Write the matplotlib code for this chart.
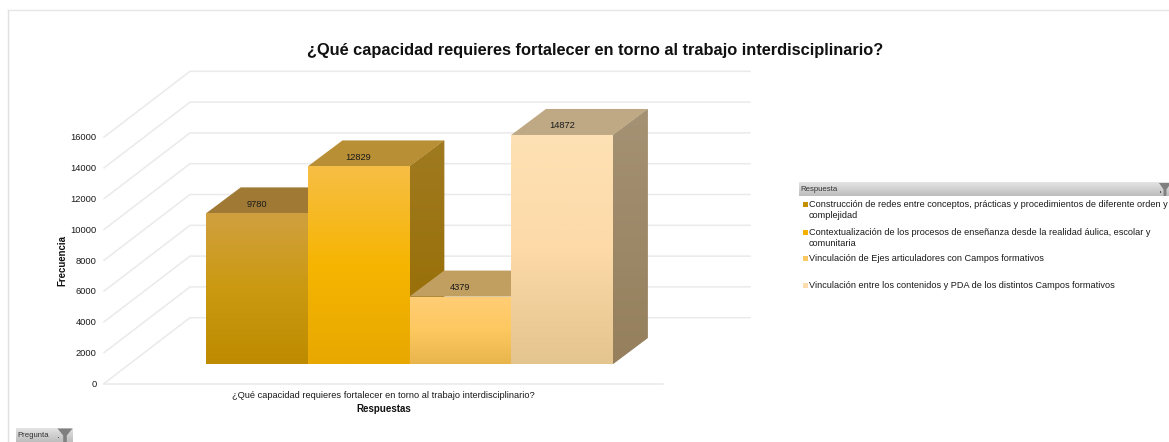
import numpy as np
import matplotlib
matplotlib.use("Agg")
import matplotlib.pyplot as plt
from matplotlib.patches import Polygon, Rectangle
from matplotlib.colors import LinearSegmentedColormap

plt.rcParams['font.family'] = ['Liberation Sans', 'DejaVu Sans']

# ---- data ----
title = "¿Qué capacidad requieres fortalecer en torno al trabajo interdisciplinario?"
category = "¿Qué capacidad requieres fortalecer en torno al trabajo interdisciplinario?"
responses = [
    "Construcción de redes entre conceptos, prácticas y procedimientos de diferente orden y\ncomplejidad",
    "Contextualización de los procesos de enseñanza desde la realidad áulica, escolar y\ncomunitaria",
    "Vinculación de Ejes articuladores con Campos formativos",
    "Vinculación entre los contenidos y PDA de los distintos Campos formativos",
]
values = [9780, 12829, 4379, 14872]
y_ticks = [0, 2000, 4000, 6000, 8000, 10000, 12000, 14000, 16000]
y_label = "Frecuencia"
x_label = "Respuestas"
legend_title = "Respuesta"
page_filter = "Pregunta"

# ---- styles ----
front_stops = [
    ["#D0A040", "#CB9A10", "#BE8B00"],
    ["#F7BE45", "#F6B500", "#E8A800"],
    ["#FFCD75", "#FEC860", "#E8B54C"],
    ["#FDE1B4", "#FDDAA8", "#E4C48F"],
]
top_cols = ["#A07A35", "#B98F35", "#C19F60", "#BFA985"]
side_stops = [
    ["#A07C28", "#946C00"],
    ["#A07A20", "#966C00"],
    ["#A88A50", "#9A7C40"],
    ["#A59274", "#957F5C"],
]
legend_cols = ["#C49000", "#F5B000", "#FCC860", "#FBDDB0"]
GRID = "#EAEAEA"

W, H = 1169, 442
fig = plt.figure(figsize=(W / 100, H / 100), dpi=100, facecolor="white")
ax = fig.add_axes([0, 0, 1, 1])

# Scale: 1 category = 101.75 px, 1 unit = 0.0154 px; origin at bar base
SX, SY, X0, Y0 = 101.75, 0.0154, 206.0, 364.0
X = lambda px: (px - X0) / SX
Y = lambda py: (Y0 - py) / SY
ax.set_xlim(X(0), X(W))
ax.set_ylim(Y(H), Y(0))
ax.axis("off")

def grad(x0, x1, y0, y1, stops, clip=None, z=3):
    cm = LinearSegmentedColormap.from_list("g", stops)
    im = ax.imshow(np.linspace(0, 1, 128)[:, None], cmap=cm, extent=[x0, x1, y0, y1],
                   origin="upper", aspect="auto", zorder=z, interpolation="bilinear")
    if clip is not None:
        im.set_clip_path(clip)
    return im

# frame
ax.plot([X(7.5), X(7.5)], [Y(442), Y(9.5)], color="#E0E0E0", lw=1, zorder=1)
ax.plot([X(7.5), X(1169)], [Y(9.5), Y(9.5)], color="#E6E6E6", lw=1, zorder=1)

# walls / gridlines
front_floor = Y(383.5)
back_floor = Y(317.7)
for t in y_ticks:
    ax.plot([X(104), X(190), X(750)],
            [front_floor + t, back_floor + t, back_floor + t],
            color=GRID, lw=1.1, zorder=1, solid_joinstyle="miter")
    ax.text(X(96.5), front_floor + t - 0.7 / SY, str(t), ha="right", va="center",
            fontsize=6.7, color="#1a1a1a", zorder=6)
ax.plot([X(104), X(663)], [front_floor, front_floor], color=GRID, lw=1.1, zorder=1)

# bars
DX, DY = 34.7 / SX, 26.0 / SY
bars = ax.bar(range(len(values)), values, width=1.0, align="edge",
              color=[s[1] for s in front_stops], edgecolor="none", zorder=2)
for i, v in enumerate(values):
    z = 2 + i
    side = Polygon([(i + 1, 0), (i + 1 + DX, DY), (i + 1 + DX, v + DY), (i + 1, v)],
                   closed=True, fc=side_stops[i][0], ec="none", zorder=z)
    ax.add_patch(side)
    grad(i + 1, i + 1 + DX, 0, v + DY, side_stops[i], clip=side, z=z)
    top = Polygon([(i, v), (i + DX, v + DY), (i + 1 + DX, v + DY), (i + 1, v)],
                  closed=True, fc=top_cols[i], ec="none", zorder=z)
    ax.add_patch(top)
    bars[i].set_zorder(z)
    grad(i, i + 1, 0, v, front_stops[i], clip=bars[i], z=z + 0.1)
    ax.text(i + 0.5, v + 9.2 / SY, str(v), ha="center", va="center",
            fontsize=6.7, color="#1a1a1a", zorder=8)

# titles
ax.text(X(595), Y(50), title, ha="center", va="center", fontsize=11.8,
        fontweight="bold", color="#111111", zorder=9)
ax.text(X(62), Y(261), y_label, rotation=90, ha="center", va="center",
        fontsize=6.9, fontweight="bold", color="#111111")
ax.text(X(383.5), Y(395), category, ha="center", va="center", fontsize=6.63, color="#1a1a1a")
ax.text(X(384), Y(408.5), x_label, ha="center", va="center", fontsize=7.0,
        fontweight="bold", color="#111111")

# filter buttons
def funnel(cx, cy, w, h):
    ax.add_patch(Polygon([(X(cx - w / 2), Y(cy - h / 2)), (X(cx + w / 2), Y(cy - h / 2)),
                          (X(cx + w * 0.12), Y(cy)), (X(cx + w * 0.12), Y(cy + h / 2)),
                          (X(cx - w * 0.12), Y(cy + h / 2)), (X(cx - w * 0.12), Y(cy))],
                         closed=True, fc="#808080", ec="none", zorder=11))

grad(X(799), X(1169), Y(196.5), Y(183), ["#E4E4E4", "#BDBDBD"], z=10)
ax.text(X(800.5), Y(189.8), legend_title, ha="left", va="center", fontsize=5.6,
        color="#333333", zorder=11)
funnel(1165, 189.5, 12, 13)
ax.add_patch(Rectangle((X(1159.5), Y(192.5)), 1.5 / SX, 1.5 / SY, fc="#555555", ec="none", zorder=11))

item_y = [204, 232, 258, 285]
for lab, c, py in zip(responses, legend_cols, item_y):
    ax.add_patch(Rectangle((X(803), Y(py + 2.5)), 5 / SX, 5 / SY, fc=c, ec="none", zorder=11))
    ax.text(X(809), Y(py - 3.9), lab, ha="left", va="top", fontsize=6.62,
            color="#1a1a1a", linespacing=1.2, zorder=11)

grad(X(16), X(73), Y(442), Y(428), ["#E4E4E4", "#BDBDBD"], z=10)
ax.text(X(17.5), Y(435.5), page_filter, ha="left", va="center", fontsize=5.6,
        color="#333333", zorder=11)
funnel(65, 435.5, 15, 14)
ax.add_patch(Rectangle((X(57.5), Y(438)), 1.5 / SX, 1.5 / SY, fc="#555555", ec="none", zorder=11))

ax.set_xlim(X(0), X(W))
ax.set_ylim(Y(H), Y(0))
fig.savefig("out.png", dpi=100, facecolor="white")
